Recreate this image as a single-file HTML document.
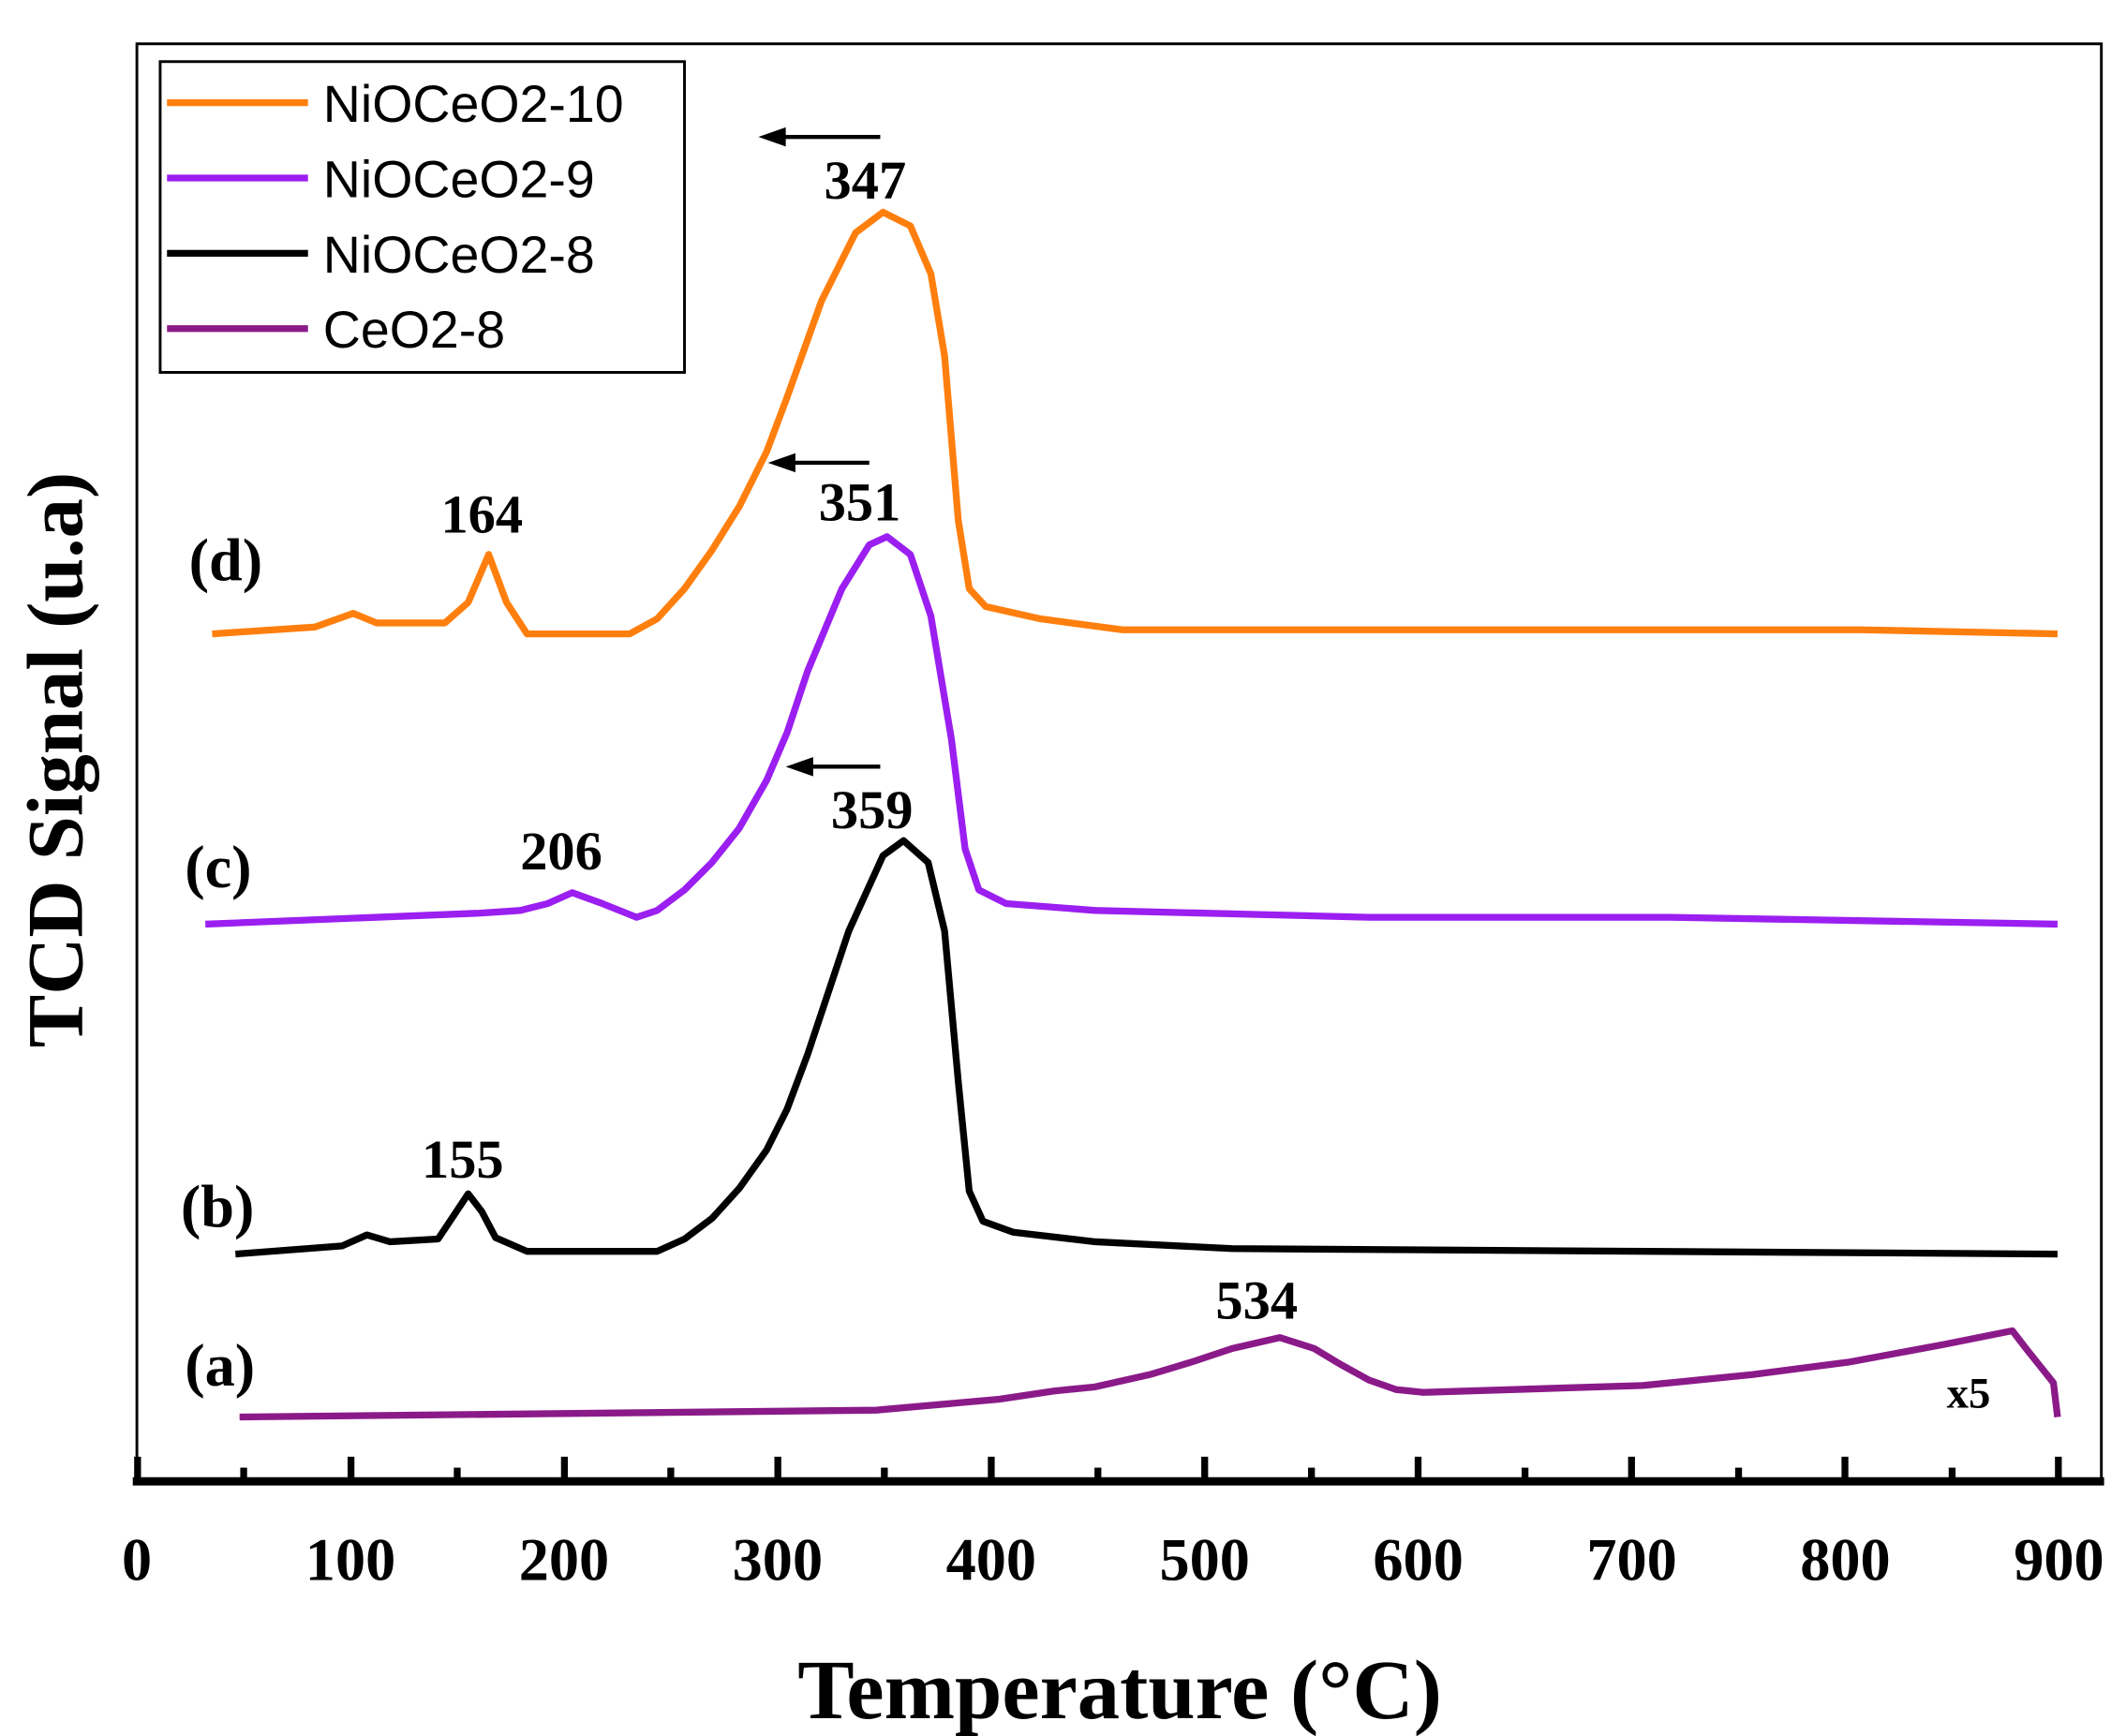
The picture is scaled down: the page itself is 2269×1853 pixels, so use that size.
<!DOCTYPE html>
<html><head><meta charset="utf-8"><style>
html,body{margin:0;padding:0;background:#fff;}
svg{display:block;}
.s{font-family:"Liberation Serif",serif;font-weight:bold;fill:#000;}
.l{font-family:"Liberation Sans",sans-serif;fill:#000;font-size:38px;}
</style></head><body>
<svg width="2269" height="1853" viewBox="0 0 1553 1268" preserveAspectRatio="none" xmlns="http://www.w3.org/2000/svg">
<rect x="0" y="0" width="1553" height="1268" fill="#fff"/>
<rect x="100" y="32" width="1435" height="1050" fill="none" stroke="#000" stroke-width="2"/>
<line x1="97" y1="1082" x2="1537" y2="1082" stroke="#000" stroke-width="6"/>
<g stroke="#000" stroke-width="5">
<line x1="100.5" y1="1082" x2="100.5" y2="1064"/>
<line x1="256.4" y1="1082" x2="256.4" y2="1064"/>
<line x1="412.3" y1="1082" x2="412.3" y2="1064"/>
<line x1="568.2" y1="1082" x2="568.2" y2="1064"/>
<line x1="724.1" y1="1082" x2="724.1" y2="1064"/>
<line x1="880" y1="1082" x2="880" y2="1064"/>
<line x1="1035.9" y1="1082" x2="1035.9" y2="1064"/>
<line x1="1191.8" y1="1082" x2="1191.8" y2="1064"/>
<line x1="1347.7" y1="1082" x2="1347.7" y2="1064"/>
<line x1="1503.6" y1="1082" x2="1503.6" y2="1064"/>
<line x1="178" y1="1082" x2="178" y2="1072"/>
<line x1="334" y1="1082" x2="334" y2="1072"/>
<line x1="490" y1="1082" x2="490" y2="1072"/>
<line x1="646" y1="1082" x2="646" y2="1072"/>
<line x1="802" y1="1082" x2="802" y2="1072"/>
<line x1="958" y1="1082" x2="958" y2="1072"/>
<line x1="1114" y1="1082" x2="1114" y2="1072"/>
<line x1="1270" y1="1082" x2="1270" y2="1072"/>
<line x1="1426" y1="1082" x2="1426" y2="1072"/>
</g>
<g class="s" font-size="44" text-anchor="middle">
<text x="100" y="1154">0</text><text x="256" y="1154">100</text><text x="412" y="1154">200</text>
<text x="568" y="1154">300</text><text x="724" y="1154">400</text><text x="880" y="1154">500</text>
<text x="1036" y="1154">600</text><text x="1192" y="1154">700</text><text x="1348" y="1154">800</text>
<text x="1504" y="1154">900</text>
</g>
<text class="s" x="818" y="1255" font-size="62" text-anchor="middle">Temperature (°C)</text>
<text class="s" transform="translate(60,555) rotate(-90)" font-size="58" text-anchor="middle">TCD Signal (u.a)</text>
<g fill="none" stroke-width="5" stroke-linejoin="round">
<polyline stroke="#ff7f0e" points="155,463 230,458 258,448 275,455 325,455 342,440 357,405 370,440 385,463 460,463 480,452 500,430 520,402 540,370 560,330 575,290 600,220 625,170 645,155 665,165 680,200 690,260 700,380 708,430 720,443 760,452 820,460 1360,460 1503,463"/>
<polyline stroke="#9b1ff0" points="150,675 350,667 380,665 400,660 418,652 440,660 465,670 480,665 500,650 520,630 540,605 560,570 575,535 590,490 615,430 635,398 648,392 665,405 680,450 695,540 705,620 715,650 735,660 800,665 1000,670 1220,670 1503,675"/>
<polyline stroke="#000" points="172,916 250,910 268,902 285,907 320,905 330,890 342,872 352,885 362,904 385,914 480,914 500,905 520,890 540,868 560,840 575,810 590,770 620,680 645,625 660,614 678,630 690,680 700,790 708,870 718,892 740,900 800,907 900,912 1503,916"/>
<polyline stroke="#8b1a89" points="175,1035 640,1030 730,1022 770,1016 800,1013 840,1004 870,995 900,985 935,977 960,985 980,997 1000,1008 1020,1015 1040,1017 1200,1012 1280,1004 1350,995 1420,982 1470,972 1480,985 1500,1010 1503,1035"/>
</g>
<g stroke="#000" stroke-width="3">
<line x1="643" y1="100" x2="570" y2="100"/><line x1="635" y1="338" x2="576" y2="338"/><line x1="643" y1="560" x2="588" y2="560"/>
</g>
<g fill="#000">
<polygon points="554,100 574,93 574,107"/><polygon points="561,338 581,331 581,345"/><polygon points="574,560 594,553 594,567"/>
</g>
<g class="s" font-size="40" text-anchor="middle">
<text x="632" y="145">347</text><text x="628" y="380">351</text><text x="637" y="605">359</text>
<text x="352" y="389">164</text><text x="410" y="635">206</text><text x="338" y="860">155</text>
<text x="918" y="963">534</text>
</g>
<text class="s" x="1438" y="1028" font-size="32" text-anchor="middle">x5</text>
<g class="s" font-size="44">
<text x="138" y="424">(d)</text><text x="135" y="648">(c)</text><text x="132" y="896">(b)</text><text x="135" y="1012">(a)</text>
</g>
<rect x="117" y="45" width="383" height="227" fill="#fff" stroke="#000" stroke-width="2"/>
<g stroke-width="5">
<line x1="122" y1="75" x2="225" y2="75" stroke="#ff7f0e"/>
<line x1="122" y1="130" x2="225" y2="130" stroke="#9b1ff0"/>
<line x1="122" y1="185" x2="225" y2="185" stroke="#000"/>
<line x1="122" y1="240" x2="225" y2="240" stroke="#8b1a89"/>
</g>
<text class="l" x="236" y="89">NiOCeO2-10</text>
<text class="l" x="236" y="144">NiOCeO2-9</text>
<text class="l" x="236" y="199">NiOCeO2-8</text>
<text class="l" x="236" y="254">CeO2-8</text>
</svg>
</body></html>
